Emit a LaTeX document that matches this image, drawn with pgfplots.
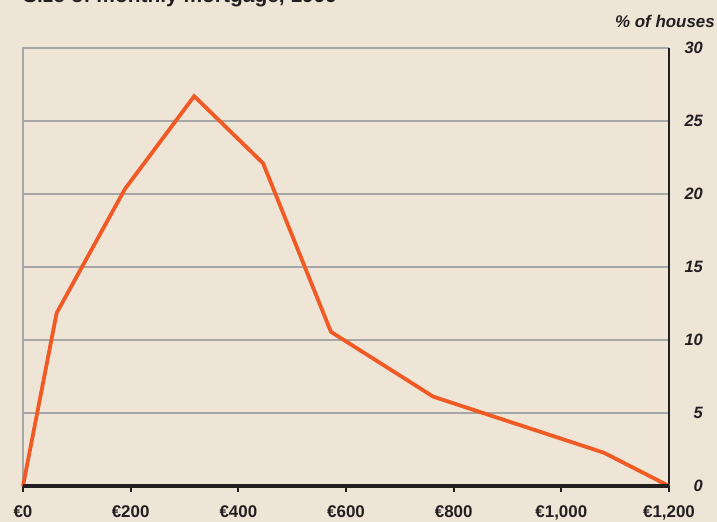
\documentclass[border=0pt]{standalone}
\usepackage{pgfplots}
\pgfplotsset{compat=1.18}
\usepackage{fontspec}
\setmainfont{Liberation Sans}
\definecolor{bgbeige}{HTML}{EFE5D6}
\definecolor{gridgray}{HTML}{A6A6A6}
\definecolor{lineorange}{HTML}{F15A24}
\definecolor{axisblack}{HTML}{231F20}
\begin{document}
\begin{tikzpicture}[x=1bp,y=1bp]
\fill[bgbeige] (0,0) rectangle (717,522);
\begin{axis}[
  at={(23bp,36bp)}, anchor=south west,
  scale only axis,
  width=646bp, height=438bp,
  xmin=0, xmax=1200, ymin=0, ymax=30,
  axis line style={draw=none},
  xtick={0,200,400,600,800,1000,1200},
  xticklabels={€0,€200,€400,€600,€800,{€1,000},{€1,200}},
  ytick={0,5,10,15,20,25,30},
  yticklabel pos=right,
  ymajorgrids=true,
  grid style={gridgray, line width=1.3bp},
  x tick style={axisblack, line width=2bp},
  xtick pos=bottom,
  xtick align=outside,
  major tick length=6bp,
  y tick style={draw=none},
  tick label style={text=axisblack},
  xticklabel style={font=\bfseries\fontsize{17}{17}\selectfont, yshift=-10bp},
  yticklabel style={font=\bfseries\itshape\fontsize{16.5}{17}\selectfont, anchor=east, inner sep=0pt, xshift=34bp},
  /pgf/number format/assume math mode=true,
  clip=false,
]
\draw[gridgray, line width=1.3bp] (rel axis cs:0,0) -- (rel axis cs:0,1) -- (rel axis cs:1,1);
\draw[axisblack, line width=1.6bp] (rel axis cs:1,1) -- (rel axis cs:1,0);
\addplot[lineorange, line width=3.8bp, line join=miter] coordinates {
  (0,0) (62.5,11.85) (189.5,20.35) (318,26.7) (446,22.1)
  (572,10.56) (762,6.12) (1079,2.28) (1200,0)
};
\draw[axisblack, line width=4.5bp] (rel axis cs:0,0) -- (rel axis cs:1,0);
\end{axis}
\node[anchor=base east, inner sep=0pt, text=axisblack, font=\bfseries\itshape\fontsize{17}{17}\selectfont] at (715,494) {\% of houses};
\node[anchor=base west, inner sep=0pt, text=axisblack, font=\bfseries\fontsize{21}{21}\selectfont] at (23,519) {Size of monthly mortgage, 1999};
\pgfresetboundingbox
\useasboundingbox (0,0) rectangle (717,522);
\end{tikzpicture}
\end{document}
